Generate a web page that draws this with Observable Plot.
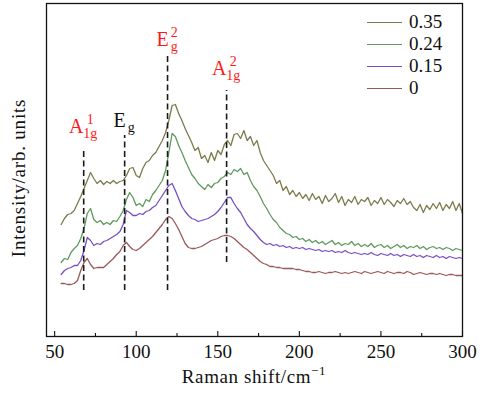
<!DOCTYPE html>
<html><head><meta charset="utf-8">
<script src="https://cdn.jsdelivr.net/npm/d3@7"></script>
<script src="https://cdn.jsdelivr.net/npm/@observablehq/plot@0.6"></script>
<style>
html,body{margin:0;padding:0;background:#fff;}
#wrap{position:relative;width:484px;height:396px;font-family:"Liberation Serif",serif;}
#legend{position:absolute;left:367px;top:11px;font-size:19px;color:#111;}
#legend .row{display:flex;align-items:center;height:22px;}
#legend .sw{display:inline-block;width:35px;height:0;border-top:1.6px solid;margin-right:7px;}
</style></head><body><div id="wrap"></div>
<script>
// Raman shift (cm^-1)
const shift = [54,56,58,60,62,64,66,68,70,72,74,76,78,80,82,84,86,88,90,92,94,96,98,100,102,104,106,108,110,112,114,116,118,120,122,124,126,128,130,132,134,136,138,140,142,144,146,148,150,152,154,156,158,160,162,164,166,168,170,172,174,176,178,180,182,184,186,188,190,192,194,196,198,200,202,204,206,208,210,212,214,216,218,220,222,224,226,228,230,232,234,236,238,240,242,244,246,248,250,252,254,256,258,260,262,264,266,268,270,272,274,276,278,280,282,284,286,288,290,292,294,296,298,300];
// Intensities (arb. units, offset spectra)
const i035 = [112,118,122,123,126,133,140,148,156,164,158,153,156,152,155,153,156,153,155,156,161,168,169,161,159,168,174,176,181,184,190,196,204,216,231,232,223,216,208,201,194,186,189,178,181,174,184,176,186,182,192,196,191,202,203,198,206,196,200,191,196,184,176,171,166,161,153,156,146,150,142,146,140,144,138,142,136,143,137,140,133,141,135,138,143,134,140,131,137,134,140,132,137,135,139,131,136,133,139,132,137,134,130,136,133,138,132,135,129,126,132,124,131,127,133,128,134,126,132,128,135,126,133,123];
const i024 = [74,78,77,84,88,91,98,108,123,128,117,114,116,112,114,112,116,115,120,126,137,144,139,131,133,130,137,135,142,146,151,156,166,184,203,200,191,184,176,169,162,158,153,150,147,152,149,153,154,158,160,164,162,167,165,168,162,164,156,150,146,140,133,128,122,117,114,109,106,103,102,99,100,97,98,95,97,94,96,93,95,92,94,96,92,94,91,93,92,95,91,93,90,92,90,93,89,91,92,89,91,88,90,92,89,91,88,90,89,91,88,90,87,89,90,88,89,87,89,88,86,88,87,86];
const i015 = [62,66,68,69,71,71,76,86,99,96,91,93,92,95,96,98,100,102,105,112,126,124,121,121,123,122,125,126,129,131,136,141,146,151,153,146,138,130,125,121,118,117,115,116,117,118,120,122,125,129,134,139,139,133,128,124,118,112,108,105,101,97,94,92,93,91,92,90,91,89,90,88,89,88,89,87,88,87,86,87,85,86,85,86,84,85,84,86,84,83,84,83,82,83,82,84,82,81,83,82,81,83,81,82,80,82,81,80,82,80,81,79,81,80,79,81,79,80,78,80,79,78,79,78];
const i000 = [53,53,52,52,53,56,66,74,78,72,68,69,69,69,72,75,78,82,85,91,94,90,87,86,88,91,94,97,100,104,108,112,117,120,118,113,107,100,93,89,88,88,89,90,92,94,96,97,98,100,101,101,100,98,95,92,89,87,84,81,78,75,73,72,70,70,69,69,68,68,68,68,67,67,66,65,65,64,64,65,64,63,64,64,65,64,63,64,63,64,65,64,63,65,64,63,64,65,64,63,65,64,63,64,64,63,65,64,62,63,64,63,62,63,63,62,63,62,61,62,62,61,61,61];
const samples = ["0.35","0.24","0.15","0"];
const colors = ["#7b7b4c","#5f9a5e","#7650c2","#9c5858"];
// Peak assignments
const peakShift = [67.8, 92.9, 119.2, 155.4];
const peakBase = ["A","E","E","A"];
const peakSup = ["1","","2","2"];
const peakSub = ["1g","g","g","1g"];
const peakRed = [true,false,true,true];
const peakTop = [188, 201, 281, 246];
const peakBottom = [46, 46, 46, 74];
const labelY = [203, 209, 290, 261];
const majorTicks = [50,100,150,200,250,300];
const minorTicks = [75,125,175,225,275];

const series = [i035, i024, i015, i000];
const rows = samples.flatMap((s, k) => shift.map((x, j) => ({shift: x, intensity: series[k][j], sample: s})));
const peaks = peakShift.map((p, i) => ({p, top: peakTop[i], bottom: peakBottom[i]}));

const plot = Plot.plot({
  width: 484, height: 396,
  marginLeft: 46, marginRight: 22, marginTop: 3, marginBottom: 60,
  style: {fontFamily: "Liberation Serif, serif", fontSize: "19px", background: "#fff", color: "#111"},
  x: {domain: [45, 300], label: null},
  y: {domain: [0, 333], axis: null},
  color: {domain: samples, range: colors},
  marks: [
    Plot.line(rows, {x: "shift", y: "intensity", z: "sample", stroke: "sample", strokeWidth: 1.3}),
    Plot.ruleX(peaks, {x: "p", y1: "bottom", y2: "top", stroke: "#1a1a1a", strokeWidth: 1.6, strokeDasharray: "6,3.5"}),
    Plot.frame({stroke: "#111", strokeWidth: 1.3}),
    Plot.tickX(majorTicks, {x: d => d, insetTop: 328, stroke: "#111", strokeWidth: 1.1}),
    Plot.tickX(minorTicks, {x: d => d, insetTop: 330, stroke: "#111", strokeWidth: 1.1}),
    Plot.axisX(majorTicks, {tickSize: 0, tickPadding: 8, label: null, fill: "#111"})
  ]
});
const wrap = document.getElementById("wrap");
wrap.appendChild(plot);

const xs = plot.scale("x"), ys = plot.scale("y");
const svg = d3.select(plot);

// Peak labels
peakShift.forEach((p, i) => {
  const g = svg.append("g").attr("fill", peakRed[i] ? "#ff1a1a" : "#111").style("font-family", "Liberation Serif, serif");
  const base = g.append("text").attr("x", 0).attr("y", 0).attr("font-size", 20).text(peakBase[i]);
  const w = base.node().getComputedTextLength();
  if (peakSup[i]) g.append("text").attr("x", w - 0.5).attr("y", -9).attr("font-size", 14).text(peakSup[i]);
  if (peakSub[i]) g.append("text").attr("x", w - 0.5).attr("y", 5).attr("font-size", 14).text(peakSub[i]);
  const bb = g.node().getBBox();
  g.attr("transform", `translate(${xs.apply(p) - bb.x - bb.width / 2},${ys.apply(labelY[i])})`);
});

// Axis titles
const xl = svg.append("text").attr("x", 254).attr("y", 383).attr("text-anchor", "middle")
  .attr("font-size", 19).attr("fill", "#111").style("letter-spacing", "0.6px");
xl.append("tspan").text("Raman shift/cm");
xl.append("tspan").attr("dy", -8).attr("font-size", 13).text("−1");
svg.append("text").attr("transform", "translate(25,178) rotate(-90)").attr("text-anchor", "middle")
  .attr("font-size", 19).attr("fill", "#111").style("letter-spacing", "0.8px").text("Intensity/arb. units");

// Legend
const leg = document.createElement("div");
leg.id = "legend";
samples.forEach((s, i) => {
  const r = document.createElement("div"); r.className = "row";
  const sw = document.createElement("span"); sw.className = "sw"; sw.style.borderTopColor = colors[i];
  const t = document.createElement("span"); t.textContent = s;
  r.appendChild(sw); r.appendChild(t); leg.appendChild(r);
});
wrap.appendChild(leg);
</script></body></html>
